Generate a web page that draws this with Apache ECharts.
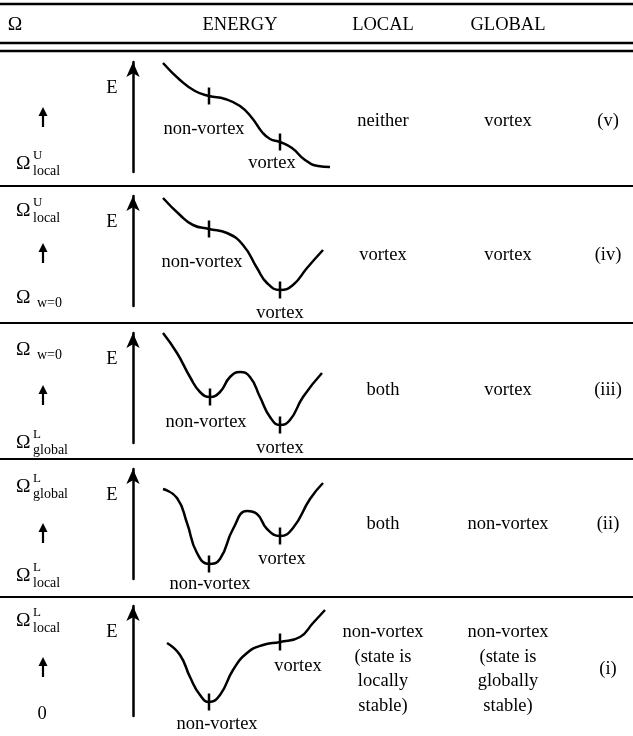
<!DOCTYPE html>
<html>
<head>
<meta charset="utf-8">
<script src="https://cdn.jsdelivr.net/npm/echarts@6/dist/echarts.min.js"></script>
<style>
html,body{margin:0;padding:0;background:#fff;}
#c{width:633px;height:736px;}
</style>
</head>
<body>
<div id="c"></div>
<script>
// ---------- data ----------
const headers = ['Ω', 'ENERGY', 'LOCAL', 'GLOBAL'];
const caseLabels = ['(v)', '(iv)', '(iii)', '(ii)', '(i)'];
const localCol = ['neither', 'vortex', 'both', 'both', 'non-vortex\n(state is\nlocally\nstable)'];
const globalCol = ['vortex', 'vortex', 'vortex', 'non-vortex', 'non-vortex\n(state is\nglobally\nstable)'];
// Omega range limits: [sup, sub] ; null = none
const omegaUpper = [null, ['U', 'local'], [null, 'w=0'], ['L', 'global'], ['L', 'local']];
const omegaLower = [['U', 'local'], [null, 'w=0'], ['L', 'global'], ['L', 'local'], 'zero'];

// energy curves (x = configuration, y = energy, arbitrary units)
const curveV   = [[30,109],[47,92],[62,81],[76,76],[92,73],[107,66],[119,54],[129,40],[137,33],[147,30],[159,24],[172,12],[185,6],[197,5]];
const curveIV  = [[30,108],[47,91],[60,81],[76,77],[94,73],[110,61],[124,38],[134,23],[147,16],[160,21],[174,38],[190,56]];
const curveIII = [[30,110],[44,90],[57,66],[67,51],[77,46],[87,51],[97,66],[107,71],[117,66],[127,46],[137,26],[147,18],[157,23],[170,46],[189,70]];
const curveII  = [[30,90],[44,81],[54,56],[64,26],[76,15],[87,20],[100,50],[114,68],[124,65],[134,50],[147,43],[160,51],[177,80],[190,96]];
const curveI   = [[34,73],[47,61],[57,39],[67,21],[76,14],[87,21],[100,46],[114,63],[130,71],[147,74],[167,79],[180,93],[192,106]];
const curves = [curveV, curveIV, curveIII, curveII, curveI];

// marked states on each curve: [x, y, name]
const statesV   = [[76,76,'non-vortex'],[147,30,'vortex']];
const statesIV  = [[76,77,'non-vortex'],[147,16,'vortex']];
const statesIII = [[77,46,'non-vortex'],[147,18,'vortex']];
const statesII  = [[76,15,'non-vortex'],[147,43,'vortex']];
const statesI   = [[76,14,'non-vortex'],[147,74,'vortex']];
const states = [statesV, statesIV, statesIII, statesII, statesI];

// ---------- layout (positions/styles) ----------
const FONT = 'Liberation Serif';
const FS = 18.5;
const SUB = 14;
const rowTops = [52, 186, 323, 459, 597];
const axisTops = [62, 196, 333, 469, 606];
const axisH = 110;
const labelOffsets = [
  [[-5,33],[-8,21]],
  [[-7,33],[0,23]],
  [[-4,25],[0,23]],
  [[1,20],[2,23]],
  [[8,22],[18,24]]
];
const omegaUpperY = [null, 211, 350, 487, 621];
const omegaLowerY = [164, 298, 443, 576, 714];
const smallArrowY = [117, 253, 395, 533, 667];
const rowMidY = [121, 255, 390, 524, 669];

const chart = echarts.init(document.getElementById('c'), null, {renderer: 'canvas'});

const graphics = [];
function txt(x, y, s, size, align) {
  graphics.push({
    type: 'text', x: x, y: y, silent: true,
    style: {text: s, font: size + 'px "' + FONT + '"', fill: '#000',
            textAlign: align || 'center', textVerticalAlign: 'middle', lineHeight: 24.5}
  });
}
function hline(y, w) {
  graphics.push({type: 'line', silent: true, shape: {x1: 0, y1: y, x2: 633, y2: y},
                 style: {stroke: '#000', lineWidth: w}});
}
function omega(spec, y) {
  if (spec === 'zero') { txt(42, y, '0', FS, 'center'); return; }
  txt(16, y, 'Ω', FS + 1, 'left');
  if (spec[0]) {
    txt(33, y - 8, spec[0], SUB - 1, 'left');
    txt(33, y + 7, spec[1], SUB, 'left');
  } else {
    txt(37, y + 5, spec[1], SUB, 'left');
  }
}
function smallArrow(y) {
  graphics.push({type: 'line', silent: true, shape: {x1: 43, y1: y + 10, x2: 43, y2: y - 3},
                 style: {stroke: '#000', lineWidth: 2.2}});
  graphics.push({type: 'polygon', silent: true, shape: {points: [[43, y - 10], [38.5, y - 1], [47.5, y - 1]]},
                 style: {fill: '#000'}});
}

// header
hline(4, 2.5);
txt(15, 25, headers[0], FS + 1, 'center');
txt(240, 25, headers[1], FS, 'center');
txt(383, 25, headers[2], FS, 'center');
txt(508, 25, headers[3], FS, 'center');
hline(43, 2.5);
hline(51, 2.5);

for (let r = 0; r < 5; r++) {
  if (r > 0) hline(rowTops[r], 2);
  if (omegaUpper[r]) omega(omegaUpper[r], omegaUpperY[r]);
  omega(omegaLower[r], omegaLowerY[r]);
  smallArrow(smallArrowY[r]);
  txt(112, axisTops[r] + 26, 'E', FS, 'center');
  txt(383, rowMidY[r], localCol[r], FS, 'center');
  txt(508, rowMidY[r], globalCol[r], FS, 'center');
  txt(608, rowMidY[r], caseLabels[r], FS, 'center');
}

const grids = [], xAxes = [], yAxes = [], series = [];
for (let r = 0; r < 5; r++) {
  grids.push({left: 133, top: axisTops[r], width: 200, height: axisH});
  xAxes.push({type: 'value', gridIndex: r, min: 0, max: 200, show: false});
  yAxes.push({type: 'value', gridIndex: r, min: 0, max: axisH,
    axisLine: {show: true, onZero: false, symbol: ['none', 'arrow'], symbolSize: [10, 15],
               lineStyle: {color: '#000', width: 2.5}},
    axisTick: {show: false}, axisLabel: {show: false}, splitLine: {show: false}});
  series.push({type: 'line', xAxisIndex: r, yAxisIndex: r, data: curves[r],
    smooth: 0.5, symbol: 'none', silent: true,
    lineStyle: {color: '#000', width: 2.5, opacity: 1}, animation: false});
  series.push({type: 'scatter', xAxisIndex: r, yAxisIndex: r,
    data: states[r].map((s, i) => ({value: [s[0], s[1]], name: s[2],
      label: {offset: labelOffsets[r][i]}})),
    symbol: 'rect', symbolSize: [2.5, 17], itemStyle: {color: '#000', opacity: 1}, silent: true,
    emphasis: {disabled: true},
    label: {show: true, position: 'inside', formatter: p => p.name,
            fontFamily: FONT, fontSize: FS, color: '#000', opacity: 1},
    animation: false});
}

chart.setOption({
  animation: false,
  backgroundColor: '#fff',
  grid: grids, xAxis: xAxes, yAxis: yAxes, series: series,
  graphic: graphics
});
</script>
</body>
</html>
